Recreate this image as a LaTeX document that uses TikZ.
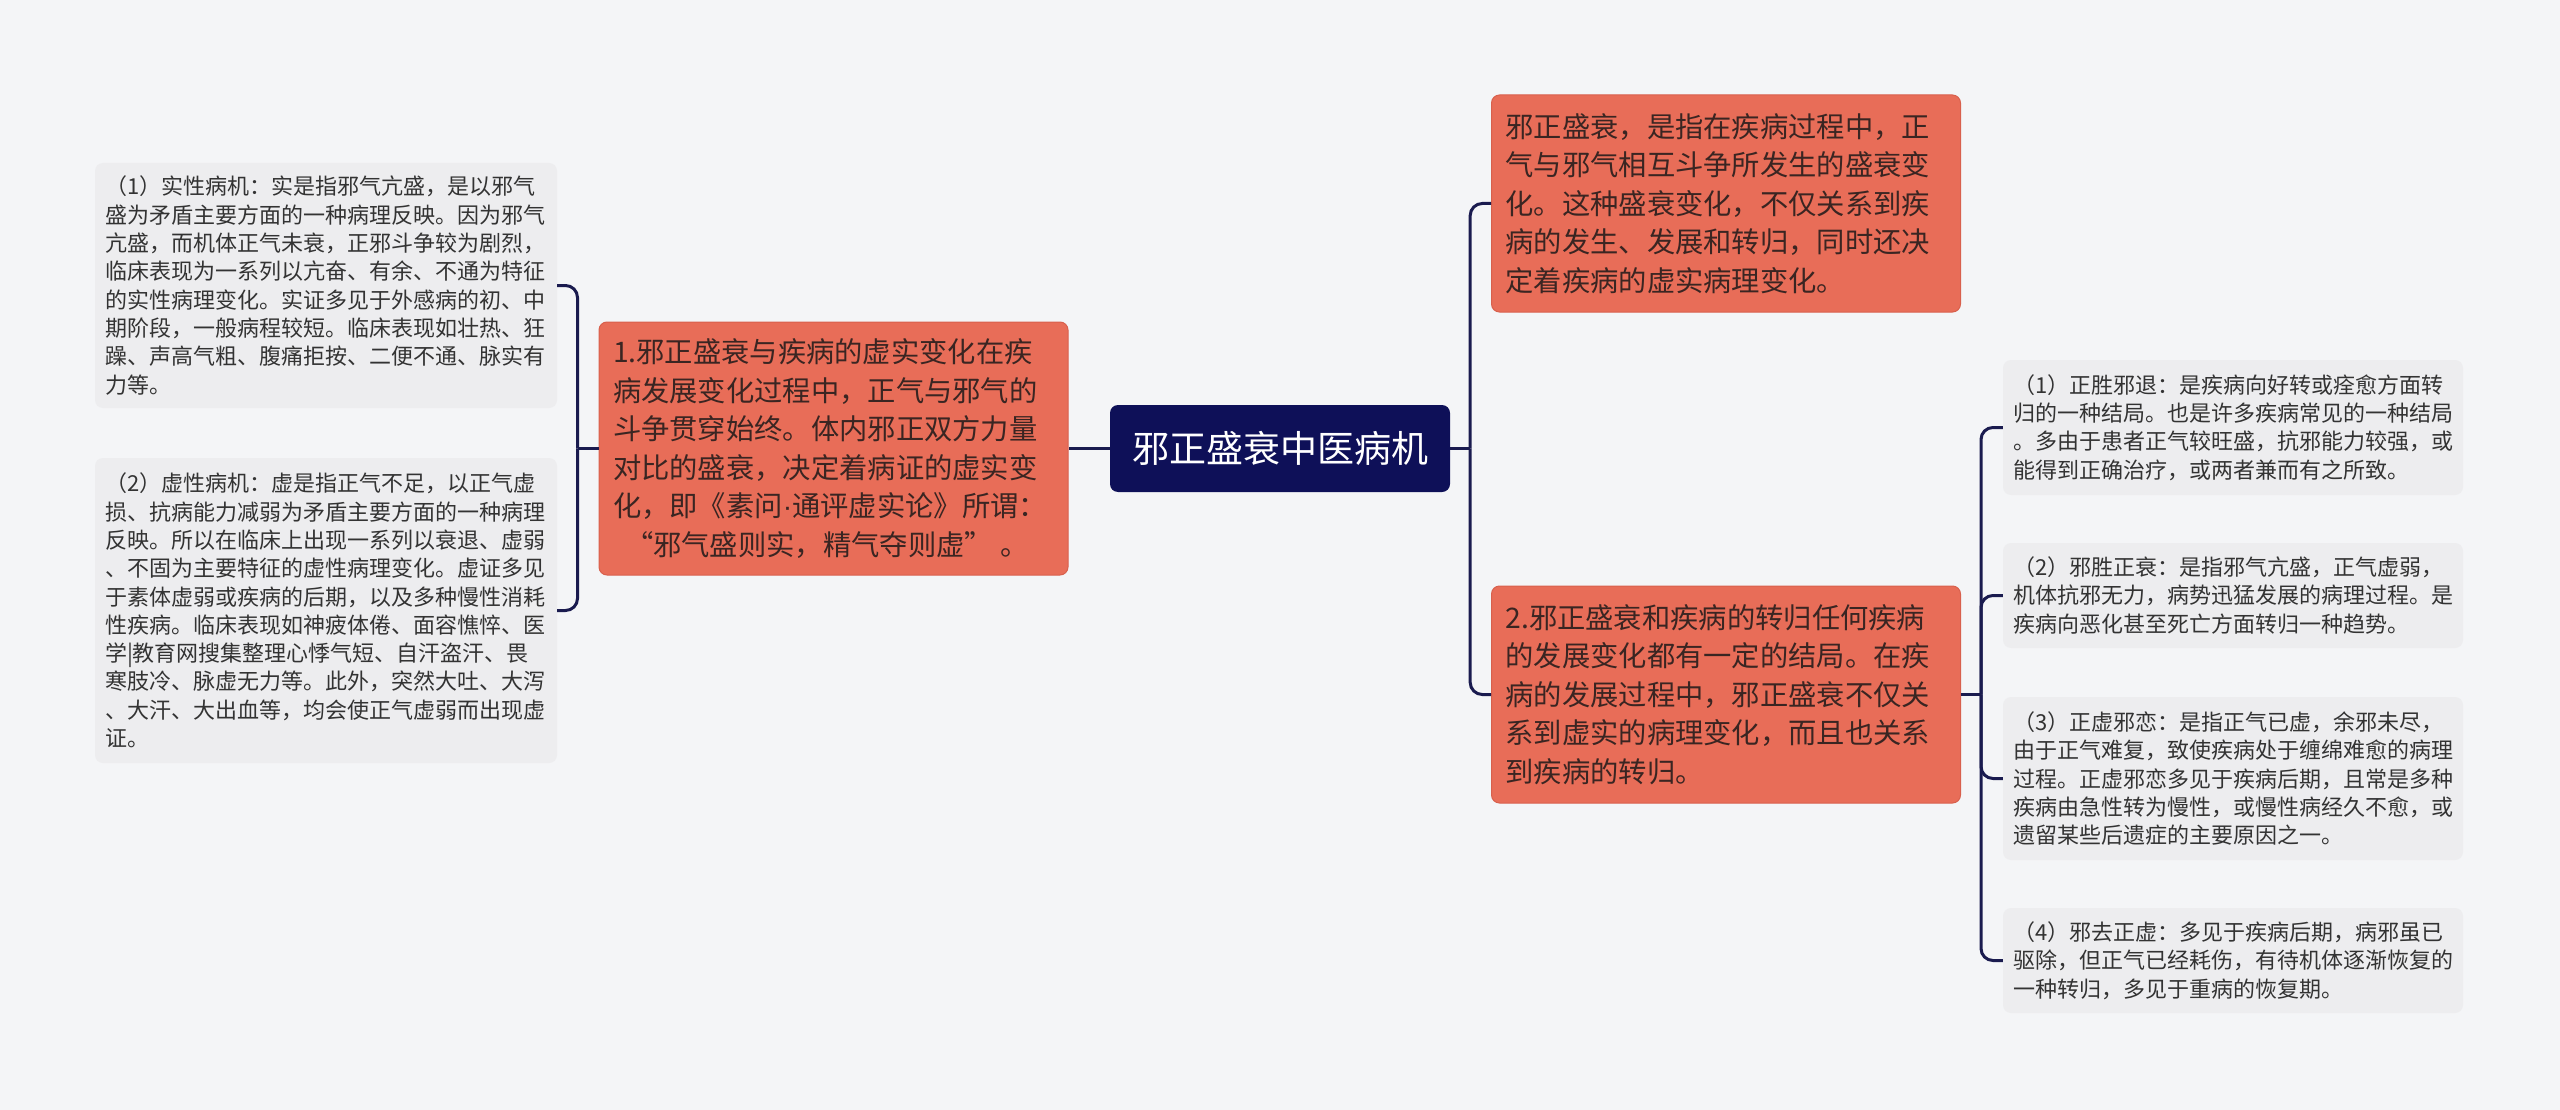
\documentclass[tikz,border=0pt]{standalone}
\usepackage{fontspec}
\setmainfont{Noto Sans CJK SC}
\newfontfamily\latinfont{Liberation Sans}
\usetikzlibrary{calc}
\definecolor{bg}{HTML}{F4F5F7}
\definecolor{navy}{HTML}{0E1058}
\definecolor{coral}{HTML}{E86D58}
\definecolor{coralb}{HTML}{D8604D}
\definecolor{leaf}{HTML}{EDEDEF}
\definecolor{ltxt}{HTML}{333333}
\definecolor{otxt}{HTML}{3A2522}
\definecolor{conn}{HTML}{1A1B4F}
\begin{document}
\begin{tikzpicture}[x=1pt,y=-1pt,
  rootbox/.style={fill=navy, text=white, rounded corners=8pt, minimum width=340pt, minimum height=87pt, inner sep=0pt, font=\fontsize{37}{44}\selectfont},
  mainbox/.style={fill=coral, draw=coralb, line width=1pt, rounded corners=8pt, text=otxt, align=left, text width=441pt, inner xsep=14pt, inner ysep=0pt, font=\fontsize{28.3}{38.5}\selectfont},
  leafbox/.style={fill=leaf, rounded corners=8pt, text=ltxt, align=left, text width=441pt, inner xsep=10pt, inner ysep=0pt, font=\fontsize{22}{28.3}\selectfont},
  link/.style={draw=conn, line width=3pt, rounded corners=12pt}]
\fill[bg] (0,0) rectangle (2560,1110);
\useasboundingbox (0,0) rectangle (2560,1110);

% root
\node[rootbox] (root) at (1280,448.5) {邪正盛衰中医病机};

% main nodes
\node[mainbox, minimum height=253pt] (m1) at (833.5,448.5) {1.邪正盛衰与疾病的虚实变化在疾\\病发展变化过程中，正气与邪气的\\斗争贯穿始终。体内邪正双方力量\\对比的盛衰，决定着病证的虚实变\\化，即《素问{\latinfont ·}通评虚实论》所谓：\\\hspace*{12pt}“邪气盛则实，精气夺则虚”\hspace{8pt}。};
\node[mainbox, minimum height=217pt] (mA) at (1726,203.5) {邪正盛衰，是指在疾病过程中，正\\气与邪气相互斗争所发生的盛衰变\\化。这种盛衰变化，不仅关系到疾\\病的发生、发展和转归，同时还决\\定着疾病的虚实病理变化。};
\node[mainbox, minimum height=217pt] (mB) at (1726,694.5) {2.邪正盛衰和疾病的转归任何疾病\\的发展变化都有一定的结局。在疾\\病的发展过程中，邪正盛衰不仅关\\系到虚实的病理变化，而且也关系\\到疾病的转归。};

% left leaves
\node[leafbox, text width=442pt, minimum height=245pt] (L1) at (326,285.5) {（1）实性病机：实是指邪气亢盛，是以邪气\\盛为矛盾主要方面的一种病理反映。因为邪气\\亢盛，而机体正气未衰，正邪斗争较为剧烈，\\临床表现为一系列以亢奋、有余、不通为特征\\的实性病理变化。实证多见于外感病的初、中\\期阶段，一般病程较短。临床表现如壮热、狂\\躁、声高气粗、腹痛拒按、二便不通、脉实有\\力等。};
\node[leafbox, text width=442pt, minimum height=305pt] (L2) at (326,610.5) {（2）虚性病机：虚是指正气不足，以正气虚\\损、抗病能力减弱为矛盾主要方面的一种病理\\反映。所以在临床上出现一系列以衰退、虚弱\\、不固为主要特征的虚性病理变化。虚证多见\\于素体虚弱或疾病的后期，以及多种慢性消耗\\性疾病。临床表现如神疲体倦、面容憔悴、医\\学|教育网搜集整理心悸气短、自汗盗汗、畏\\寒肢冷、脉虚无力等。此外，突然大吐、大泻\\、大汗、大出血等，均会使正气虚弱而出现虚\\证。};

% right leaves
\node[leafbox, text width=440pt, minimum height=135pt] (R1) at (2233,427.5) {（1）正胜邪退：是疾病向好转或痊愈方面转\\归的一种结局。也是许多疾病常见的一种结局\\。多由于患者正气较旺盛，抗邪能力较强，或\\能得到正确治疗，或两者兼而有之所致。};
\node[leafbox, text width=440pt, minimum height=105pt] (R2) at (2233,595.5) {（2）邪胜正衰：是指邪气亢盛，正气虚弱，\\机体抗邪无力，病势迅猛发展的病理过程。是\\疾病向恶化甚至死亡方面转归一种趋势。};
\node[leafbox, text width=440pt, minimum height=163pt] (R3) at (2233,778.5) {（3）正虚邪恋：是指正气已虚，余邪未尽，\\由于正气难复，致使疾病处于缠绵难愈的病理\\过程。正虚邪恋多见于疾病后期，且常是多种\\疾病由急性转为慢性，或慢性病经久不愈，或\\遗留某些后遗症的主要原因之一。};
\node[leafbox, text width=440pt, minimum height=105pt] (R4) at (2233,960.5) {（4）邪去正虚：多见于疾病后期，病邪虽已\\驱除，但正气已经耗伤，有待机体逐渐恢复的\\一种转归，多见于重病的恢复期。};

% connectors
\coordinate (cl) at ($(m1.west)+(-21,0)$);
\coordinate (cr) at ($(root.east)+(20,0)$);
\coordinate (crr) at ($(mB.east)+(20,0)$);

\draw[link] (root.west) -- (m1.east);
\draw[link] (m1.west) -- (cl);
\draw[link] (cl) |- (L1.east);
\draw[link] (cl) |- (L2.east);

\draw[link] (root.east) -- (cr);
\draw[link] (cr) |- (mA.west);
\draw[link] (cr) |- (mB.west);

\draw[link] (mB.east) -- (crr);
\draw[link] (crr) |- (R1.west);
\draw[link] (crr) |- (R2.west);
\draw[link] (crr) |- (R3.west);
\draw[link] (crr) |- (R4.west);
\end{tikzpicture}
\end{document}
